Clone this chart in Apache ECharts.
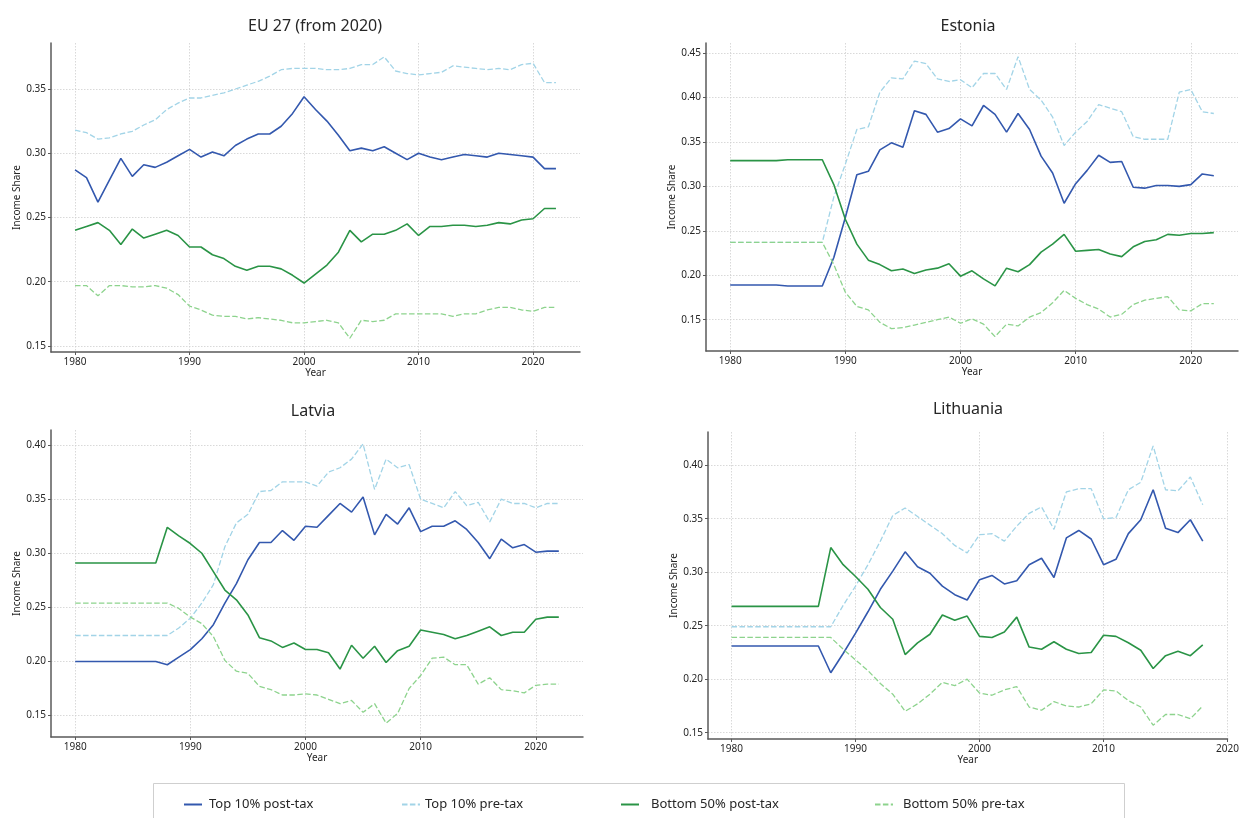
<!DOCTYPE html>
<html>
<head>
<meta charset="utf-8">
<title>Income shares: EU 27, Estonia, Latvia, Lithuania</title>
<script src="https://cdn.jsdelivr.net/npm/echarts@6/dist/echarts.min.js"></script>
<style>
  html, body { margin: 0; padding: 0; background: #ffffff; }
  #chart { width: 1242px; height: 818px; }
</style>
</head>
<body>
<div id="chart"></div>
<script>
// ---- Years ----
const years = [1980, 1981, 1982, 1983, 1984, 1985, 1986, 1987, 1988, 1989,
  1990, 1991, 1992, 1993, 1994, 1995, 1996, 1997, 1998, 1999,
  2000, 2001, 2002, 2003, 2004, 2005, 2006, 2007, 2008, 2009,
  2010, 2011, 2012, 2013, 2014, 2015, 2016, 2017, 2018, 2019,
  2020, 2021, 2022];
const yearsLithuania = [1980, 1981, 1982, 1983, 1984, 1985, 1986, 1987, 1988, 1989,
  1990, 1991, 1992, 1993, 1994, 1995, 1996, 1997, 1998, 1999,
  2000, 2001, 2002, 2003, 2004, 2005, 2006, 2007, 2008, 2009,
  2010, 2011, 2012, 2013, 2014, 2015, 2016, 2017, 2018];

// ---- EU 27 (from 2020) ----
const euTop10Post = [0.287, 0.281, 0.262, 0.279, 0.296, 0.282, 0.291, 0.289, 0.293, 0.298,
  0.303, 0.297, 0.301, 0.298, 0.306, 0.311, 0.315, 0.315, 0.321, 0.331,
  0.344, 0.334, 0.325, 0.314, 0.302, 0.304, 0.302, 0.305, 0.300, 0.295,
  0.300, 0.297, 0.295, 0.297, 0.299, 0.298, 0.297, 0.300, 0.299, 0.298,
  0.297, 0.288, 0.288];
const euTop10Pre = [0.318, 0.316, 0.311, 0.312, 0.315, 0.317, 0.322, 0.326, 0.334, 0.339,
  0.343, 0.343, 0.345, 0.347, 0.350, 0.353, 0.356, 0.360, 0.365, 0.366,
  0.366, 0.366, 0.365, 0.365, 0.366, 0.369, 0.369, 0.375, 0.364, 0.362,
  0.361, 0.362, 0.363, 0.368, 0.367, 0.366, 0.365, 0.366, 0.365, 0.369,
  0.370, 0.355, 0.355];
const euBottom50Post = [0.240, 0.243, 0.246, 0.240, 0.229, 0.241, 0.234, 0.237, 0.240, 0.236,
  0.227, 0.227, 0.221, 0.218, 0.212, 0.209, 0.212, 0.212, 0.210, 0.205,
  0.199, 0.206, 0.213, 0.223, 0.240, 0.231, 0.237, 0.237, 0.240, 0.245,
  0.236, 0.243, 0.243, 0.244, 0.244, 0.243, 0.244, 0.246, 0.245, 0.248,
  0.249, 0.257, 0.257];
const euBottom50Pre = [0.197, 0.197, 0.189, 0.197, 0.197, 0.196, 0.196, 0.197, 0.195, 0.190,
  0.181, 0.178, 0.174, 0.173, 0.173, 0.171, 0.172, 0.171, 0.170, 0.168,
  0.168, 0.169, 0.170, 0.168, 0.156, 0.170, 0.169, 0.170, 0.175, 0.175,
  0.175, 0.175, 0.175, 0.173, 0.175, 0.175, 0.178, 0.180, 0.180, 0.178,
  0.177, 0.180, 0.180];

// ---- Estonia ----
const eeTop10Post = [0.189, 0.189, 0.189, 0.189, 0.189, 0.188, 0.188, 0.188, 0.188, 0.220,
  0.265, 0.313, 0.317, 0.341, 0.349, 0.344, 0.385, 0.381, 0.361, 0.365,
  0.376, 0.368, 0.391, 0.381, 0.361, 0.382, 0.364, 0.334, 0.315, 0.281,
  0.303, 0.318, 0.335, 0.327, 0.328, 0.299, 0.298, 0.301, 0.301, 0.300,
  0.302, 0.314, 0.312];
const eeTop10Pre = [0.237, 0.237, 0.237, 0.237, 0.237, 0.237, 0.237, 0.237, 0.237, 0.288,
  0.325, 0.364, 0.367, 0.406, 0.422, 0.421, 0.441, 0.438, 0.421, 0.418,
  0.420, 0.411, 0.427, 0.427, 0.409, 0.446, 0.409, 0.397, 0.378, 0.346,
  0.361, 0.373, 0.392, 0.388, 0.384, 0.356, 0.353, 0.353, 0.353, 0.406,
  0.409, 0.384, 0.382];
const eeBottom50Post = [0.329, 0.329, 0.329, 0.329, 0.329, 0.330, 0.330, 0.330, 0.330, 0.302,
  0.263, 0.235, 0.217, 0.212, 0.205, 0.207, 0.202, 0.206, 0.208, 0.213,
  0.199, 0.205, 0.196, 0.188, 0.208, 0.204, 0.212, 0.226, 0.235, 0.246,
  0.227, 0.228, 0.229, 0.224, 0.221, 0.232, 0.238, 0.240, 0.246, 0.245,
  0.247, 0.247, 0.248];
const eeBottom50Pre = [0.237, 0.237, 0.237, 0.237, 0.237, 0.237, 0.237, 0.237, 0.237, 0.212,
  0.181, 0.165, 0.161, 0.147, 0.140, 0.141, 0.144, 0.147, 0.150, 0.153,
  0.146, 0.151, 0.145, 0.131, 0.145, 0.143, 0.153, 0.158, 0.169, 0.183,
  0.174, 0.167, 0.162, 0.153, 0.156, 0.167, 0.172, 0.174, 0.176, 0.161,
  0.160, 0.168, 0.168];

// ---- Latvia ----
const lvTop10Post = [0.200, 0.200, 0.200, 0.200, 0.200, 0.200, 0.200, 0.200, 0.197, 0.204,
  0.211, 0.221, 0.234, 0.254, 0.272, 0.294, 0.310, 0.310, 0.321, 0.312,
  0.325, 0.324, 0.335, 0.346, 0.338, 0.352, 0.317, 0.336, 0.327, 0.342,
  0.320, 0.325, 0.325, 0.330, 0.322, 0.310, 0.295, 0.313, 0.305, 0.308,
  0.301, 0.302, 0.302];
const lvTop10Pre = [0.224, 0.224, 0.224, 0.224, 0.224, 0.224, 0.224, 0.224, 0.224, 0.231,
  0.240, 0.254, 0.271, 0.306, 0.328, 0.336, 0.357, 0.358, 0.366, 0.366,
  0.366, 0.362, 0.375, 0.379, 0.387, 0.401, 0.359, 0.387, 0.379, 0.382,
  0.350, 0.346, 0.342, 0.357, 0.344, 0.347, 0.329, 0.350, 0.346, 0.346,
  0.342, 0.346, 0.346];
const lvBottom50Post = [0.291, 0.291, 0.291, 0.291, 0.291, 0.291, 0.291, 0.291, 0.324, 0.316,
  0.309, 0.300, 0.283, 0.266, 0.257, 0.243, 0.222, 0.219, 0.213, 0.217,
  0.211, 0.211, 0.208, 0.193, 0.215, 0.203, 0.214, 0.199, 0.210, 0.214,
  0.229, 0.227, 0.225, 0.221, 0.224, 0.228, 0.232, 0.224, 0.227, 0.227,
  0.239, 0.241, 0.241];
const lvBottom50Pre = [0.254, 0.254, 0.254, 0.254, 0.254, 0.254, 0.254, 0.254, 0.254, 0.249,
  0.241, 0.235, 0.223, 0.201, 0.191, 0.189, 0.177, 0.174, 0.169, 0.169,
  0.170, 0.169, 0.165, 0.161, 0.164, 0.153, 0.161, 0.143, 0.152, 0.175,
  0.187, 0.203, 0.204, 0.197, 0.197, 0.179, 0.185, 0.174, 0.173, 0.171,
  0.178, 0.179, 0.179];

// ---- Lithuania ----
const ltTop10Post = [0.231, 0.231, 0.231, 0.231, 0.231, 0.231, 0.231, 0.231, 0.206, 0.224,
  0.243, 0.263, 0.284, 0.301, 0.319, 0.305, 0.299, 0.287, 0.279, 0.274,
  0.293, 0.297, 0.289, 0.292, 0.307, 0.313, 0.295, 0.332, 0.339, 0.331,
  0.307, 0.312, 0.336, 0.349, 0.377, 0.341, 0.337, 0.349, 0.329];
const ltTop10Pre = [0.249, 0.249, 0.249, 0.249, 0.249, 0.249, 0.249, 0.249, 0.249, 0.269,
  0.287, 0.307, 0.329, 0.353, 0.360, 0.352, 0.344, 0.336, 0.325, 0.318,
  0.335, 0.336, 0.329, 0.343, 0.355, 0.361, 0.340, 0.375, 0.378, 0.378,
  0.350, 0.351, 0.377, 0.384, 0.418, 0.377, 0.376, 0.389, 0.363];
const ltBottom50Post = [0.268, 0.268, 0.268, 0.268, 0.268, 0.268, 0.268, 0.268, 0.323, 0.307,
  0.296, 0.284, 0.267, 0.256, 0.223, 0.234, 0.242, 0.260, 0.255, 0.259,
  0.240, 0.239, 0.244, 0.258, 0.230, 0.228, 0.235, 0.228, 0.224, 0.225,
  0.241, 0.240, 0.234, 0.227, 0.210, 0.222, 0.226, 0.222, 0.232];
const ltBottom50Pre = [0.239, 0.239, 0.239, 0.239, 0.239, 0.239, 0.239, 0.239, 0.239, 0.228,
  0.218, 0.208, 0.196, 0.186, 0.170, 0.177, 0.186, 0.197, 0.194, 0.200,
  0.187, 0.185, 0.190, 0.193, 0.174, 0.171, 0.179, 0.175, 0.174, 0.177,
  0.190, 0.189, 0.180, 0.174, 0.157, 0.167, 0.167, 0.163, 0.175];

// ---- Tick labels ----
const yearTicks = [1980, 1990, 2000, 2010, 2020];
const euShareTicks = [0.15, 0.20, 0.25, 0.30, 0.35];
const eeShareTicks = [0.15, 0.20, 0.25, 0.30, 0.35, 0.40, 0.45];
const lvShareTicks = [0.15, 0.20, 0.25, 0.30, 0.35, 0.40];
const ltShareTicks = [0.15, 0.20, 0.25, 0.30, 0.35, 0.40];

const seriesNames = ['Top 10% post-tax', 'Top 10% pre-tax', 'Bottom 50% post-tax', 'Bottom 50% pre-tax'];
const panelTitles = ['EU 27 (from 2020)', 'Estonia', 'Latvia', 'Lithuania'];

// ---- Styling ----
const FONT = '"Noto Sans", "Open Sans", sans-serif';
const TEXT = '#262626';
const SPINE = '#5a5a5a';
const colors = ['#3358ae', '#a2d4e7', '#2a9446', '#8dd38d'];

const panels = [
  { title: panelTitles[0], years: years, x: [1977.9, 2024.1], y: [0.1453, 0.3858], yTicks: euShareTicks,
    grid: { left: 51, top: 43, width: 529, height: 309 }, titleX: 310, titleY: 13, nameGap: 28,
    series: [euTop10Post, euTop10Pre, euBottom50Post, euBottom50Pre] },
  { title: panelTitles[1], years: years, x: [1977.9, 2024.1], y: [0.1148, 0.4613], yTicks: eeShareTicks,
    grid: { left: 706, top: 43, width: 532, height: 308 }, titleX: 963, titleY: 13, nameGap: 29,
    series: [eeTop10Post, eeTop10Pre, eeBottom50Post, eeBottom50Pre] },
  { title: panelTitles[2], years: years, x: [1977.9, 2024.1], y: [0.1302, 0.4139], yTicks: lvShareTicks,
    grid: { left: 51, top: 430, width: 532, height: 307 }, titleX: 308, titleY: 398, nameGap: 28,
    series: [lvTop10Post, lvTop10Pre, lvBottom50Post, lvBottom50Pre] },
  { title: panelTitles[3], years: yearsLithuania, x: [1978.1, 2020], y: [0.1441, 0.4310], yTicks: ltShareTicks,
    grid: { left: 708, top: 432, width: 520, height: 307 }, titleX: 963, titleY: 396, nameGap: 27,
    series: [ltTop10Post, ltTop10Pre, ltBottom50Post, ltBottom50Pre] }
];

const option = {
  backgroundColor: '#ffffff',
  animation: false,
  title: [],
  grid: [],
  xAxis: [],
  yAxis: [],
  series: [],
  legend: [],
  graphic: [
    {
      type: 'rect',
      shape: { x: 153.5, y: 783.5, width: 971, height: 60 },
      style: { fill: '#ffffff', stroke: '#cfcfcf', lineWidth: 1 },
      z: -1, silent: true
    }
  ]
};

const gridLine = { show: true, lineStyle: { color: '#cfcfcf', type: [1.5, 1.5], width: 0.8 } };
const spineLine = { show: true, onZero: false, lineStyle: { color: SPINE, width: 1.5 } };
const tickLine = { show: true, length: 3, lineStyle: { color: SPINE, width: 1 } };

panels.forEach((p, i) => {
  option.title.push({
    text: p.title, left: p.titleX, top: p.titleY, textAlign: 'center',
    textStyle: { fontFamily: FONT, fontSize: 16, fontWeight: 'normal', color: TEXT }
  });
  option.grid.push(Object.assign({ containLabel: false }, p.grid));
  option.xAxis.push({
    type: 'value', gridIndex: i, min: p.x[0], max: p.x[1],
    name: 'Year', nameLocation: 'middle', nameGap: 14,
    nameTextStyle: { fontFamily: FONT, fontSize: 10, color: TEXT },
    axisLine: spineLine,
    axisTick: Object.assign({ customValues: yearTicks }, tickLine),
    axisLabel: { customValues: yearTicks, fontFamily: FONT, fontSize: 10, color: TEXT, margin: 5,
      formatter: v => String(v) },
    splitLine: gridLine
  });
  option.yAxis.push({
    type: 'value', gridIndex: i, min: p.y[0], max: p.y[1],
    name: 'Income Share', nameLocation: 'middle', nameGap: p.nameGap, nameRotate: 90,
    nameTextStyle: { fontFamily: FONT, fontSize: 10, color: TEXT },
    axisLine: spineLine,
    axisTick: Object.assign({ customValues: p.yTicks }, tickLine),
    axisLabel: { customValues: p.yTicks, fontFamily: FONT, fontSize: 10, color: TEXT, margin: 5,
      formatter: v => v.toFixed(2) },
    splitLine: gridLine
  });
  p.series.forEach((vals, k) => {
    const dashed = (k % 2 === 1);
    option.series.push({
      name: seriesNames[k],
      type: 'line',
      xAxisIndex: i, yAxisIndex: i,
      data: p.years.map((yr, j) => [yr, vals[j]]),
      symbol: 'none',
      color: colors[k],
      lineStyle: dashed
        ? { color: colors[k], width: 1.3, type: [5.5, 2.4] }
        : { color: colors[k], width: 1.6 },
      z: 2 + k
    });
  });
});

// One legend entry per slot so each sits where it belongs in the box
const legendSlots = [
  { left: 178, pad: 2 },
  { left: 396, pad: 0 },
  { left: 615, pad: 7 },
  { left: 869, pad: 5 }
];
seriesNames.forEach((name, k) => {
  option.legend.push({
    data: [name], left: legendSlots[k].left, top: 793,
    itemWidth: 18, itemHeight: 14, selectedMode: false,
    // line sample only, no marker dot
    itemStyle: { color: 'rgba(0,0,0,0)', borderColor: 'rgba(0,0,0,0)', borderWidth: 0, opacity: 0 },
    textStyle: { fontFamily: FONT, fontSize: 13, color: TEXT, padding: [0, 0, 0, legendSlots[k].pad] }
  });
});

const chart = echarts.init(document.getElementById('chart'), null, { renderer: 'canvas' });
chart.setOption(option);
</script>
</body>
</html>
